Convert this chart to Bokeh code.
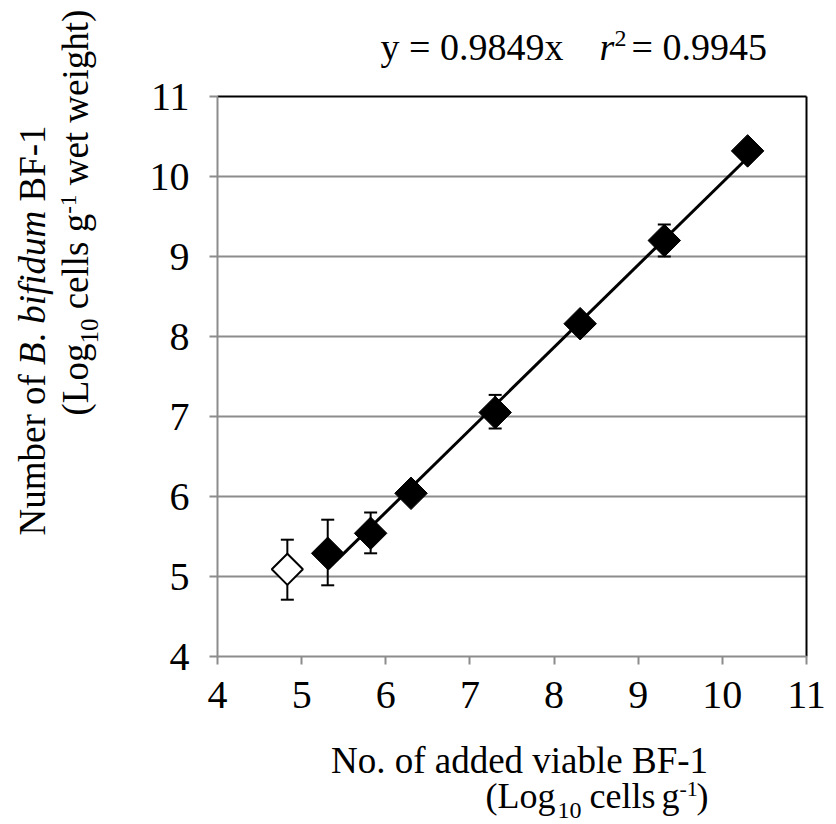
import math
import numpy as np
from bokeh.plotting import figure
from bokeh.models import Label, FixedTicker, Range1d
from bokeh.embed import file_html
from bokeh.resources import INLINE

# ---- data ----
added = [4.83, 5.31, 5.82, 6.30, 7.30, 8.31, 9.31, 10.30]
measured = [5.09, 5.29, 5.54, 6.04, 7.05, 8.16, 9.20, 10.32]
err_low = [4.71, 4.89, 5.29, 6.00, 6.85, 8.12, 9.00, 10.29]
err_high = [5.46, 5.71, 5.80, 6.08, 7.27, 8.20, 9.40, 10.35]
filled = [False, True, True, True, True, True, True, True]
ticks = [4, 5, 6, 7, 8, 9, 10, 11]
equation_text = "y = 0.9849x"
r2_text = "= 0.9945"

FONT = "Liberation Serif"
GRAY = "#8c8c8c"

W, H = 836, 824
XMIN, XMAX, YMIN, YMAX = 4, 11, 4, 11
# where the data box sits in the picture (pixels)
PX0, PX1, PY0, PY1 = 217, 806, 96, 656
SX = (PX1 - PX0) / (XMAX - XMIN)
SY = (PY1 - PY0) / (YMAX - YMIN)

def dx(px):
    return XMIN + (px - PX0) / SX

def dy(py):
    return YMIN + (PY1 - py) / SY

p = figure(width=W, height=H,
           x_range=Range1d(dx(0), dx(W)), y_range=Range1d(dy(H), dy(0)),
           output_backend="svg", toolbar_location=None,
           min_border_left=0, min_border_right=0, min_border_top=0, min_border_bottom=0)
p.title.visible = False
p.outline_line_color = None
p.background_fill_color = "white"
p.xgrid.visible = False
p.ygrid.visible = False

for ax in (p.xaxis[0], p.yaxis[0]):
    ax.ticker = FixedTicker(ticks=ticks)
    ax.bounds = (ticks[0], ticks[-1])
    ax.major_label_text_font = FONT
    ax.major_label_text_font_size = "40px"
    ax.major_label_text_color = "black"
    ax.axis_line_color = GRAY
    ax.axis_line_width = 2
    ax.major_tick_line_color = GRAY
    ax.major_tick_line_width = 2
    ax.major_tick_out = 8
    ax.major_tick_in = 0
    ax.minor_tick_out = 0
    ax.minor_tick_in = 0
p.xaxis.fixed_location = YMIN
p.yaxis.fixed_location = XMIN
p.xaxis.major_label_standoff = 17
p.yaxis.major_label_standoff = 20

# horizontal grid lines at the y ticks
grid_y = ticks[1:-1]
p.segment(x0=[XMIN] * len(grid_y), y0=grid_y, x1=[XMAX] * len(grid_y), y1=grid_y,
          line_color=GRAY, line_width=2)
# top and right frame borders
p.segment(x0=[XMIN, XMAX], y0=[YMAX, YMIN], x1=[XMAX, XMAX], y1=[YMAX, YMAX],
          line_color="black", line_width=2)

# regression line through the filled points
fx = np.array([a for a, f in zip(added, filled) if f])
fy = np.array([m for m, f in zip(measured, filled) if f])
slope, icpt = np.polyfit(fx, fy, 1)
lx = [fx.min(), fx.max()]
ly = [slope * v + icpt for v in lx]
p.line(lx, ly, line_color="black", line_width=3)

# error bars
p.segment(x0=added, y0=err_low, x1=added, y1=err_high, line_color="black", line_width=2)
p.scatter(added, err_low, marker="dash", size=13, line_color="black", line_width=2)
p.scatter(added, err_high, marker="dash", size=13, line_color="black", line_width=2)

ox = [a for a, f in zip(added, filled) if not f]
oy = [m for m, f in zip(measured, filled) if not f]
p.scatter(list(fx), list(fy), marker="square", angle=math.pi / 4, size=23,
          fill_color="black", line_color="black", line_width=1)
p.scatter(ox, oy, marker="square", angle=math.pi / 4, size=22,
          fill_color="white", line_color="black", line_width=2)

# ---- text pieces placed at picture pixels (baseline positions) ----
K = 0.35  # baseline correction, fraction of the font size

def lab(text, px, py, size, style="normal", align="left"):
    p.add_layout(Label(x=dx(px), y=dy(py - K * size), text=text, text_font=FONT,
                       text_font_size=f"{size}px", text_font_style=style,
                       text_color="black", text_align=align,
                       text_baseline="alphabetic"))

def vlab(text, bx, py, size, style="normal"):
    # rotated 90 deg, reading upward; bx = baseline x, py = start of the text
    p.add_layout(Label(x=dx(bx - K * size), y=dy(py), text=text, text_font=FONT,
                       text_font_size=f"{size}px", text_font_style=style,
                       text_color="black", angle=math.pi / 2, text_align="left",
                       text_baseline="alphabetic"))

# equation
lab(equation_text, 380, 60, 38)
lab("r", 599, 60, 38, "italic")
lab("2", 614, 46, 24)
lab(r2_text, 631, 60, 38)

# x-axis title
lab("No. of added viable BF-1", 519, 773, 37, align="center")
lab("(Log", 485, 808, 36)
lab("10", 557, 818, 24)
lab("cells", 589, 808, 36)
lab("g", 661, 808, 36)
lab("-1", 679, 796, 22)
lab(")", 696, 808, 36)

# y-axis title (rotated, reading upward)
S = 37
def wdt(units, size=S):
    return units * size / 1000.0
SP = wdt(250)

y0 = 535
bx = 45
vlab("Number of", bx, y0, S)
y0 -= wdt(3277 + 1333 - 250) + SP
vlab("B", bx, y0, S, "italic")
y0 -= wdt(611)
vlab(".", bx, y0, S)
y0 -= wdt(250) + SP
vlab("bifidum", bx, y0, S, "italic")
y0 -= wdt(3056) + SP
vlab("BF-1", bx, y0, S)

y1 = 415
bx2 = 88
vlab("(Log", bx2, y1, S)
y1 -= wdt(1944)
vlab("10", bx2 + 10, y1, 25)
y1 -= 25 + SP
vlab("cells", bx2, y1, S)
y1 -= wdt(1833) + SP
vlab("g", bx2, y1, S)
y1 -= wdt(500)
vlab("-1", bx2 - 12, y1, 23)
y1 -= wdt(833, 23) + SP
vlab("wet weight)", bx2, y1, S)

open("out.html", "w").write(file_html(p, INLINE))
